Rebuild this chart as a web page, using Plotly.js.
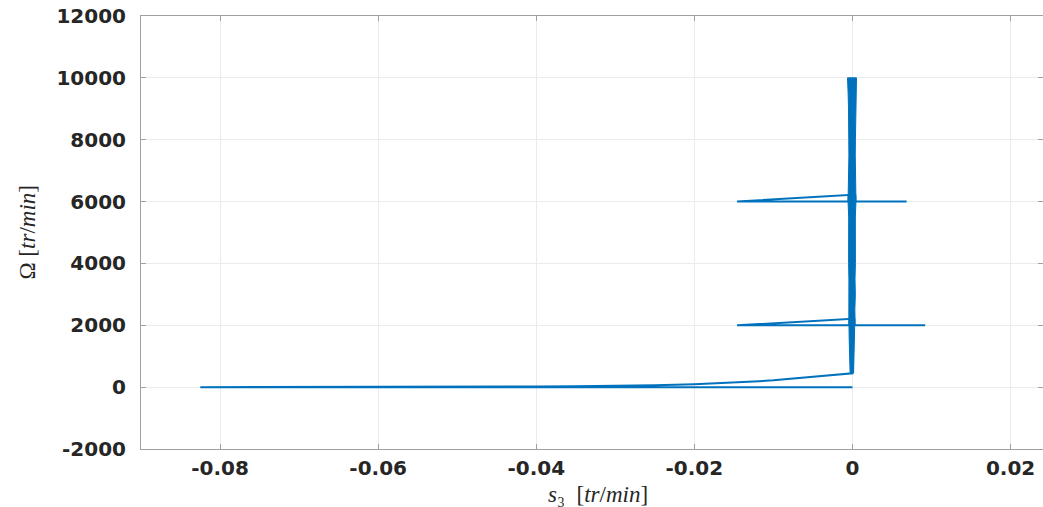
<!DOCTYPE html>
<html>
<head>
<meta charset="utf-8">
<script src="https://cdn.plot.ly/plotly-3.0.1.min.js"></script>
<style>html,body{margin:0;padding:0;background:#fff;}#chart{width:1043px;height:507px;}</style>
</head>
<body>
<div id="chart"></div>
<script>
// Trajectory s3 (x) vs Omega (y)
const pathS3 = [0, -0.0825, -0.07, -0.06, -0.05, -0.045, -0.04, -0.035, -0.03, -0.025, -0.02, -0.0175, -0.015, -0.0125, -0.01, -0.0075, -0.005, -0.0025, -0.001, -0.0003, 0,
                0, -0.0146, 0.0092, 0,
                0, -0.0146, 0.00685, 0,
                0];
const pathOmega = [0, 0, 2, 5, 10, 14, 20, 28, 40, 60, 95, 118, 146, 180, 222, 278, 335, 395, 428, 444, 450,
                   2210, 2000, 2000, 2000,
                   6220, 6000, 6000, 6000,
                   10000];

// Noisy vertical bands around s3 = 0 (left / right envelope)
const band1Omega = [450, 800, 1200, 1600, 2000, 2210];
const band1Left  = [-0.00030, -0.00036, -0.00040, -0.00042, -0.00044, -0.00044];
const band1Right = [0.00014, 0.00020, 0.00024, 0.00026, 0.00028, 0.00030];

const band2Omega = [2000, 2500, 3000, 3500, 4000, 4500, 5000, 5500, 6000, 6220];
const band2Left  = [-0.00046, -0.00044, -0.00048, -0.00045, -0.00049, -0.00046, -0.00050, -0.00048, -0.00056, -0.00055];
const band2Right = [0.00034, 0.00030, 0.00036, 0.00032, 0.00037, 0.00033, 0.00038, 0.00036, 0.00044, 0.00042];

const band3Omega = [6000, 6500, 7000, 7500, 8000, 8500, 9000, 9500, 9800, 10000];
const band3Left  = [-0.00056, -0.00050, -0.00048, -0.00045, -0.00047, -0.00044, -0.00050, -0.00055, -0.00060, -0.00063];
const band3Right = [0.00044, 0.00038, 0.00040, 0.00035, 0.00037, 0.00034, 0.00040, 0.00045, 0.00049, 0.00051];

const xTicks = [-0.08, -0.06, -0.04, -0.02, 0, 0.02];
const xTickText = ['-0.08', '-0.06', '-0.04', '-0.02', '0', '0.02'];
const yTicks = [-2000, 0, 2000, 4000, 6000, 8000, 10000, 12000];
const yTickText = ['-2000', '0', '2000', '4000', '6000', '8000', '10000', '12000'];

const xTitle = '<i>s</i>₃  [<i>tr</i>/<i>min</i>]';
const yTitle = 'Ω [<i>tr</i>/<i>min</i>]';

const lineColor = '#0072BD';

function bandTrace(ys, left, right) {
  return {
    x: left.concat(right.slice().reverse()),
    y: ys.concat(ys.slice().reverse()),
    type: 'scatter', mode: 'lines', fill: 'toself',
    fillcolor: lineColor, line: {color: lineColor, width: 1},
    hoverinfo: 'skip', showlegend: false
  };
}

const traces = [
  {x: pathS3, y: pathOmega, type: 'scatter', mode: 'lines',
   line: {color: lineColor, width: 2}, showlegend: false},
  bandTrace(band1Omega, band1Left, band1Right),
  bandTrace(band2Omega, band2Left, band2Right),
  bandTrace(band3Omega, band3Left, band3Right)
];

const tickFont = {family: 'DejaVu Sans', size: 20, color: '#262626', weight: 'bold'};
const titleFont = {family: 'Liberation Serif', size: 23, color: '#262626'};

const layout = {
  width: 1043, height: 507,
  margin: {l: 141, r: 0, t: 16, b: 58},
  paper_bgcolor: '#ffffff', plot_bgcolor: '#ffffff',
  showlegend: false,
  xaxis: {
    range: [-0.09, 0.0241], tickvals: xTicks, ticktext: xTickText,
    ticks: 'inside', ticklen: 5, tickcolor: '#a0a0a0',
    showline: true, linecolor: '#a0a0a0', linewidth: 1, mirror: 'ticks',
    showgrid: true, gridcolor: '#ebebeb', gridwidth: 1, zeroline: false,
    tickfont: tickFont, ticklabelstandoff: 1
  },
  yaxis: {
    range: [-2000, 12000], tickvals: yTicks, ticktext: yTickText,
    ticks: 'inside', ticklen: 5, tickcolor: '#a0a0a0',
    showline: true, linecolor: '#a0a0a0', linewidth: 1, mirror: 'ticks',
    showgrid: true, gridcolor: '#ebebeb', gridwidth: 1, zeroline: false,
    tickfont: tickFont, ticklabelstandoff: 10
  },
  annotations: [
    {text: xTitle, xref: 'paper', yref: 'paper', x: 0.507, y: -0.136,
     xanchor: 'center', yanchor: 'bottom', showarrow: false, font: titleFont, borderpad: 0},
    {text: yTitle, xref: 'paper', yref: 'paper', x: -0.1253, y: 0.5,
     xanchor: 'center', yanchor: 'middle', textangle: -90, showarrow: false, font: titleFont}
  ]
};

Plotly.newPlot('chart', traces, layout, {displayModeBar: false, staticPlot: true});
</script>
</body>
</html>
